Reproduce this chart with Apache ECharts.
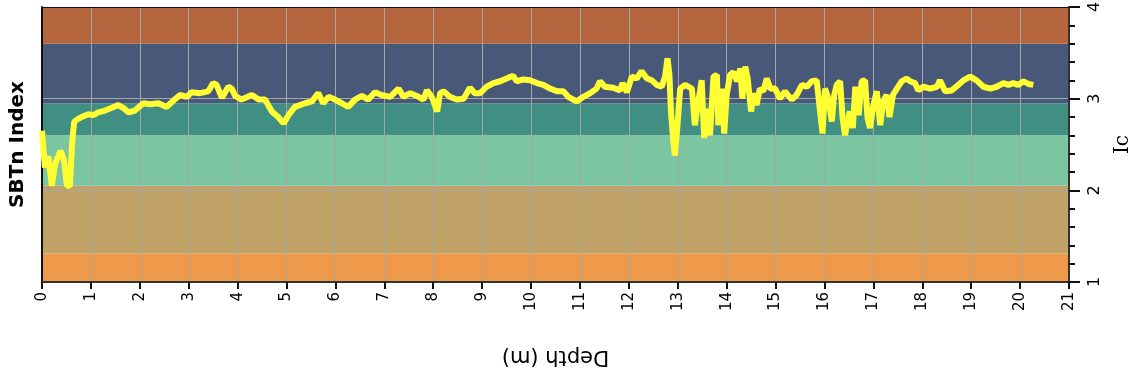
<!DOCTYPE html>
<html>
<head>
<meta charset="utf-8">
<script src="https://cdn.jsdelivr.net/npm/echarts@6/dist/echarts.min.js"></script>
<style>
  html, body { margin: 0; padding: 0; background: #fff; }
  #chart { width: 1133px; height: 378px; }
</style>
</head>
<body>
<div id="chart"></div>
<script>
// depth (m) and Ic
var depth = [0.00,0.06,0.13,0.20,0.27,0.30,0.38,0.45,0.51,0.57,0.62,0.66,0.74,0.85,0.95,1.05,1.15,1.29,1.43,1.56,1.66,1.77,1.90,2.07,2.21,2.38,2.55,2.69,2.82,2.96,3.06,3.23,3.40,3.50,3.57,3.68,3.81,3.88,3.95,4.08,4.29,4.43,4.56,4.70,4.83,4.94,5.04,5.17,5.38,5.52,5.65,5.75,5.86,5.99,6.13,6.26,6.40,6.54,6.67,6.81,6.94,7.12,7.29,7.39,7.53,7.70,7.80,7.87,7.97,8.08,8.14,8.21,8.34,8.48,8.62,8.75,8.85,8.96,9.09,9.23,9.37,9.50,9.63,9.71,9.84,9.98,10.12,10.25,10.39,10.53,10.66,10.76,10.93,11.07,11.21,11.34,11.41,11.51,11.68,11.82,11.87,11.96,12.06,12.16,12.26,12.37,12.47,12.57,12.67,12.74,12.79,12.83,12.86,12.91,12.94,12.99,13.05,13.15,13.29,13.35,13.42,13.49,13.54,13.59,13.66,13.73,13.80,13.83,13.90,13.95,14.00,14.07,14.14,14.21,14.28,14.32,14.38,14.43,14.50,14.55,14.61,14.68,14.75,14.82,14.89,14.99,15.09,15.19,15.33,15.43,15.54,15.64,15.74,15.84,15.91,15.96,16.01,16.08,16.15,16.20,16.25,16.32,16.37,16.42,16.47,16.52,16.58,16.63,16.70,16.76,16.83,16.88,16.93,17.00,17.07,17.14,17.20,17.27,17.33,17.40,17.48,17.58,17.68,17.75,17.85,17.92,18.02,18.16,18.30,18.36,18.47,18.60,18.74,18.84,18.98,19.11,19.25,19.39,19.52,19.66,19.76,19.86,19.96,20.07,20.17,20.27];
var ic = [2.65,2.25,2.37,2.05,2.29,2.27,2.43,2.33,2.05,2.05,2.55,2.75,2.78,2.81,2.83,2.82,2.85,2.87,2.90,2.93,2.90,2.85,2.87,2.95,2.94,2.95,2.91,2.98,3.04,3.02,3.07,3.06,3.08,3.17,3.15,3.01,3.13,3.11,3.03,2.99,3.04,2.99,2.99,2.86,2.80,2.73,2.82,2.91,2.95,2.97,3.06,2.95,3.02,2.99,2.95,2.91,2.99,3.03,2.99,3.07,3.04,3.02,3.11,3.02,3.06,3.02,2.99,3.09,3.02,2.86,3.06,3.08,3.02,2.99,3.00,3.12,3.06,3.06,3.13,3.17,3.19,3.22,3.25,3.19,3.21,3.20,3.17,3.15,3.11,3.08,3.08,3.02,2.97,3.02,3.06,3.11,3.19,3.13,3.12,3.09,3.17,3.07,3.24,3.22,3.30,3.22,3.20,3.15,3.13,3.24,3.44,3.26,2.86,2.53,2.38,2.68,3.11,3.15,3.11,2.71,2.97,3.20,2.57,2.89,2.60,3.24,3.26,2.71,3.11,2.62,3.04,3.26,3.29,3.19,3.33,3.00,3.35,3.22,2.86,3.06,2.93,3.11,3.08,3.22,3.11,3.11,3.00,3.08,2.99,3.04,3.15,3.13,3.19,3.20,2.86,2.62,3.11,3.00,2.75,3.04,3.15,3.19,2.79,2.60,2.75,2.86,2.68,3.13,2.82,3.19,3.20,2.79,2.68,2.93,3.08,2.71,2.97,3.04,2.80,3.04,3.11,3.19,3.22,3.19,3.17,3.09,3.13,3.11,3.13,3.20,3.08,3.09,3.15,3.20,3.24,3.20,3.13,3.11,3.13,3.17,3.15,3.17,3.15,3.19,3.16,3.15];

// SBTn zone limits on Ic, bottom to top
var zoneLimits = [1, 1.31, 2.05, 2.6, 2.95, 3.6, 4];
var zoneColors = ['#ef9a4a', '#c0a266', '#7bc5a0', '#418f83', '#485878', '#b5663e'];

var font = 'DejaVu Sans';

var bands = [];
for (var i = 0; i < zoneColors.length; i++) {
  bands.push([
    { yAxis: zoneLimits[i], itemStyle: { color: zoneColors[i] } },
    { yAxis: zoneLimits[i + 1] }
  ]);
}

var points = depth.map(function(d, i) { return [d, ic[i]]; });

var chart = echarts.init(document.getElementById('chart'), null, { renderer: 'canvas' });
chart.setOption({
  animation: false,
  backgroundColor: '#fff',
  grid: { left: 42, right: 64, top: 7, bottom: 96, outerBoundsMode: 'none' },
  xAxis: [{
    type: 'value',
    min: 0,
    max: 21,
    interval: 1,
    z: 2,
    name: 'Depth (m)',
    nameLocation: 'middle',
    nameRotate: 180,
    nameGap: 64,
    nameTextStyle: { fontFamily: font, fontSize: 21, color: '#000' },
    axisLine: { show: true, onZero: false, lineStyle: { color: '#333', width: 2 } },
    axisTick: { show: true, length: 7, lineStyle: { color: '#111', width: 2 } },
    axisLabel: { rotate: 90, margin: 10, fontFamily: font, fontSize: 15, color: '#000' },
    splitLine: { show: true, lineStyle: { color: '#a6a6a6', width: 1 } }
  }, {
    type: 'value',
    position: 'top',
    min: 0,
    max: 21,
    z: 2,
    axisLine: { show: true, onZero: false, lineStyle: { color: '#111', width: 1 } },
    axisTick: { show: false },
    axisLabel: { show: false },
    splitLine: { show: false }
  }],
  yAxis: [{
    type: 'value',
    position: 'right',
    min: 1,
    max: 4,
    interval: 1,
    z: 2,
    name: 'Ic',
    nameLocation: 'middle',
    nameRotate: 90,
    nameGap: 44,
    nameTextStyle: { fontFamily: 'DejaVu Serif', fontSize: 20, color: '#000' },
    axisLine: { show: true, onZero: false, lineStyle: { color: '#333', width: 2 } },
    axisTick: { show: true, length: 11, lineStyle: { color: '#111', width: 2 } },
    minorTick: { show: true, splitNumber: 5, length: 6, lineStyle: { color: '#111', width: 2 } },
    axisLabel: { rotate: 90, margin: 18, fontFamily: font, fontSize: 16, color: '#000' },
    splitLine: { show: true, lineStyle: { color: '#a6a6a6', width: 1 } }
  }, {
    type: 'value',
    position: 'left',
    min: 1,
    max: 4,
    z: 2,
    name: 'SBTn Index',
    nameLocation: 'middle',
    nameRotate: 90,
    nameGap: 14,
    nameTextStyle: { fontFamily: font, fontSize: 20, fontWeight: 'bold', color: '#000' },
    axisLine: { show: true, onZero: false, lineStyle: { color: '#111', width: 2 } },
    axisTick: { show: false },
    axisLabel: { show: false },
    splitLine: { show: false }
  }],
  series: [{
    type: 'line',
    data: points,
    z: 3,
    symbol: 'none',
    lineStyle: { color: '#ffff33', width: 6 },
    markArea: {
      silent: true,
      z: 1,
      itemStyle: { opacity: 1 },
      data: bands
    }
  }]
});
window.addEventListener('resize', function() { chart.resize(); });
</script>
</body>
</html>
